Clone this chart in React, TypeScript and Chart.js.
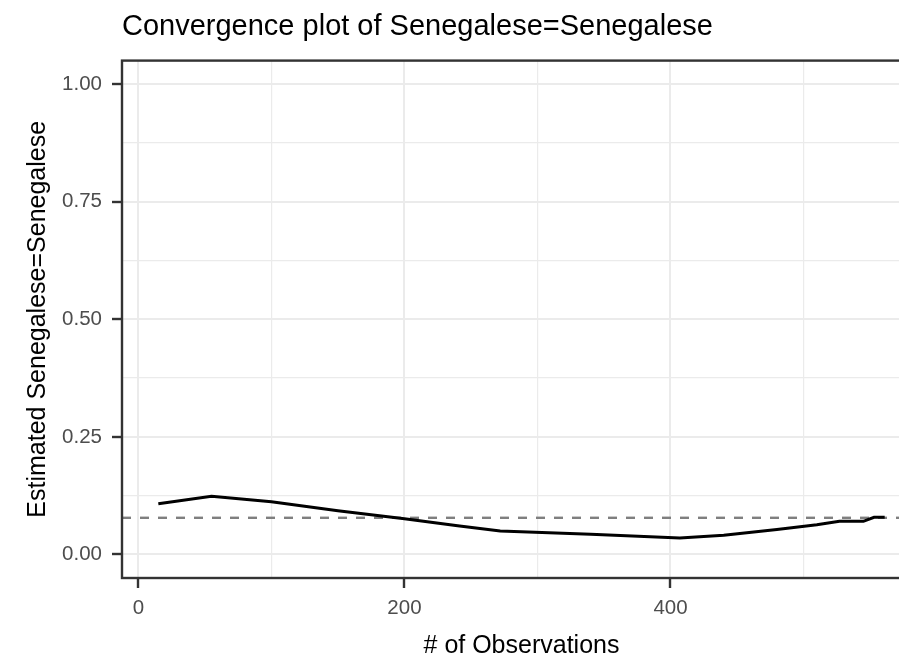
import React, { useEffect, useRef } from "react";
import { Chart, registerables } from "chart.js";

Chart.register(...registerables);

// ---- Data ----
const observations = [15, 55, 100, 150, 200, 240, 272, 340, 407, 440, 480, 510, 527, 545, 553, 561];
const estimates = [0.108, 0.124, 0.112, 0.093, 0.076, 0.061, 0.050, 0.043, 0.035, 0.041, 0.053, 0.063, 0.0705, 0.0705, 0.079, 0.079];
const referenceValue = 0.078;
const xRange = [-12.3, 588.3];
const yRange = [-0.05, 1.05];
const xTicks = [0, 100, 200, 300, 400, 500];
const xLabelled = [0, 200, 400];
const yTicks = [0, 0.125, 0.25, 0.375, 0.5, 0.625, 0.75, 0.875, 1.0];
const yLabelled = [0, 0.25, 0.5, 0.75, 1.0];
const titleText = "Convergence plot of Senegalese=Senegalese";
const xTitle = "# of Observations";
const yTitle = "Estimated Senegalese=Senegalese";

const FONT = "'Liberation Sans', Arial, Helvetica, sans-serif";
const W = 924;
const H = 662;

const isX = (v: number) => xLabelled.some((t) => Math.abs(t - v) < 1e-9);
const isY = (v: number) => yLabelled.some((t) => Math.abs(t - v) < 1e-9);

const panelBorder = {
  id: "panelBorder",
  afterDraw(chart: any) {
    const { ctx, chartArea } = chart;
    ctx.save();
    ctx.strokeStyle = "#333333";
    ctx.lineWidth = 2.4;
    ctx.strokeRect(chartArea.left, chartArea.top, chartArea.right - chartArea.left, chartArea.bottom - chartArea.top);
    ctx.restore();
  },
};

export default function App() {
  const ref = useRef<HTMLCanvasElement | null>(null);
  useEffect(() => {
    if (!ref.current) return;
    const chart = new Chart(ref.current, {
      type: "line",
      data: {
        datasets: [
          {
            label: "estimate",
            data: observations.map((x, i) => ({ x, y: estimates[i] })),
            borderColor: "#000000",
            borderWidth: 3,
            pointRadius: 0,
            tension: 0,
            fill: false,
          },
          {
            label: "reference",
            data: xRange.map((x) => ({ x, y: referenceValue })),
            borderColor: "#7f7f7f",
            borderWidth: 2.4,
            borderDash: [9, 9],
            pointRadius: 0,
            tension: 0,
            fill: false,
          },
        ],
      },
      plugins: [panelBorder],
      options: {
        responsive: false,
        animation: false,
        devicePixelRatio: 1,
        layout: { padding: { left: 0, top: 0, right: 3, bottom: 0 } },
        plugins: {
          legend: { display: false },
          tooltip: { enabled: false },
          title: {
            display: true,
            text: titleText,
            align: "start",
            fullSize: false,
            color: "#000000",
            font: { family: FONT, size: 29, weight: "normal", lineHeight: 1.2 },
            padding: { top: 9.6, bottom: 16.2 },
          },
        },
        scales: {
          x: {
            type: "linear",
            min: xRange[0],
            max: xRange[1],
            afterBuildTicks: (scale: any) => {
              scale.ticks = xTicks.map((v) => ({ value: v }));
            },
            afterFit: (scale: any) => {
              scale.height = 84;
            },
            ticks: {
              autoSkip: false,
              maxRotation: 0,
              padding: 8,
              color: "#4d4d4d",
              font: { family: FONT, size: 20.5 },
              callback: (v: any) => (isX(Number(v)) ? String(v) : ""),
            },
            grid: {
              color: "#ebebeb",
              lineWidth: (c: any) => (isX(c.tick?.value) ? 2 : 1.2),
              tickLength: 10,
              tickColor: (c: any) => (isX(c.tick?.value) ? "#333333" : "rgba(0,0,0,0)"),
              tickWidth: 2.4,
            },
            border: { display: false },
            title: {
              display: true,
              text: xTitle,
              color: "#000000",
              font: { family: FONT, size: 25, lineHeight: 1.2 },
              padding: { top: 0, bottom: 0.5 },
            },
          },
          y: {
            type: "linear",
            min: yRange[0],
            max: yRange[1],
            afterBuildTicks: (scale: any) => {
              scale.ticks = yTicks.map((v) => ({ value: v }));
            },
            afterFit: (scale: any) => {
              scale.width = 122;
            },
            ticks: {
              autoSkip: false,
              padding: 10,
              color: "#4d4d4d",
              font: { family: FONT, size: 20.5 },
              callback: (v: any) => (isY(Number(v)) ? Number(v).toFixed(2) : ""),
            },
            grid: {
              color: "#ebebeb",
              lineWidth: (c: any) => (isY(c.tick?.value) ? 2 : 1.2),
              tickLength: 10,
              tickColor: (c: any) => (isY(c.tick?.value) ? "#333333" : "rgba(0,0,0,0)"),
              tickWidth: 2.4,
            },
            border: { display: false },
            title: {
              display: true,
              text: yTitle,
              color: "#000000",
              font: { family: FONT, size: 25, lineHeight: 1.2 },
              padding: { top: 22.8, bottom: 0 },
            },
          },
        },
      } as any,
    });
    return () => chart.destroy();
  }, []);

  return (
    <div
      style={{
        position: "fixed",
        left: 0,
        top: 0,
        width: 899,
        height: 662,
        overflow: "hidden",
        background: "#ffffff",
      }}
    >
      <canvas ref={ref} width={W} height={H} style={{ display: "block", width: W, height: H }} />
    </div>
  );
}
